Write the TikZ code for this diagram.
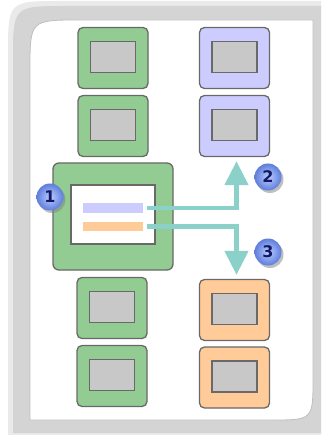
\documentclass[tikz,border=0pt]{standalone}
\usepackage{fontspec}
\setsansfont{DejaVu Sans}
\usetikzlibrary{arrows.meta,shadows}

\definecolor{dotgray}{RGB}{212,212,212}
\definecolor{panegreen}{RGB}{146,204,146}
\definecolor{panelilac}{RGB}{204,204,255}
\definecolor{paneorange}{RGB}{255,204,153}
\definecolor{paneline}{RGB}{105,105,105}
\definecolor{thumbgray}{RGB}{200,200,200}
\definecolor{flowteal}{RGB}{140,208,202}
\definecolor{badgelight}{RGB}{185,205,255}
\definecolor{badgeblue}{RGB}{95,125,220}
\definecolor{badgenavy}{RGB}{20,24,100}

\begin{document}
\begin{tikzpicture}[x=1pt, y=-1pt,
		every node/.style={inner sep=0pt},
		pane/.style={draw=paneline, line width=1.3pt, rounded corners=5pt, minimum width=70pt, minimum height=61pt},
		thumb/.style={draw=paneline, fill=thumbgray, line width=1.6pt, minimum width=45pt, minimum height=31pt},
		bar/.style={minimum width=60pt, minimum height=9.5pt},
		flow/.style={draw=flowteal, line width=4.5pt, -{Triangle[width=23pt,length=24pt]}, shorten >=4pt},
		badge/.style={circle, minimum size=27pt, shade, shading=radial, inner color=badgelight, outer color=badgeblue,
			text=badgenavy, font=\sffamily\bfseries\fontsize{16}{16}\selectfont,
			drop shadow={shadow xshift=2pt, shadow yshift=-2.5pt, opacity=0.5}}]
	\useasboundingbox (0,0) rectangle (321,435);
	% \draw[help lines] (0,0) grid (321,435);

	% dotted backdrop and white sheet
	\fill[dotgray!50] (8,435) -- (8,55) .. controls (8,1) .. (62,1) -- (321,1) -- (321,435) -- cycle;
	\fill[dotgray] (13,433) -- (13,60) .. controls (13,6) .. (67,6) -- (321,6) -- (321,433) -- cycle;
	\filldraw[fill=white, draw=black!25, line width=0.8pt]
		(30,420) -- (30,70) .. controls (30,20) .. (80,20) -- (313,20) -- (313,378) .. controls (313,420) .. (271,420) -- cycle;

	% left column
	\node[pane, fill=panegreen] (leftA) at (113,58) {};
	\node[thumb] at (113,57) {};
	\node[pane, fill=panegreen] (leftB) at (113,126) {};
	\node[thumb] at (113,125) {};
	\node[pane, fill=panegreen] (leftC) at (112,308) {};
	\node[thumb] at (112,307) {};
	\node[pane, fill=panegreen] (leftD) at (112,376) {};
	\node[thumb] at (112,375) {};

	% right column
	\node[pane, fill=panelilac] (lilacA) at (234.5,58) {};
	\node[thumb] at (234.5,57) {};
	\node[pane, fill=panelilac] (lilacB) at (234.5,126) {};
	\node[thumb] at (234.5,125) {};
	\node[pane, fill=paneorange] (orangeA) at (234.5,310) {};
	\node[thumb] at (234.5,309) {};
	\node[pane, fill=paneorange] (orangeB) at (234.5,377.5) {};
	\node[thumb] at (234.5,376.5) {};

	% selected pane
	\node[pane, fill=panegreen, minimum width=120pt, minimum height=107pt, rounded corners=6pt] (main) at (113,216.5) {};
	\node[draw=paneline, fill=white, line width=1.6pt, minimum width=84pt, minimum height=59pt] (sheet) at (113,214.5) {};
	\node[bar, fill=panelilac] (lilacbar) at (113,208) {};
	\node[bar, fill=paneorange] (orangebar) at (113,226.5) {};

	\draw[flow] ([xshift=4pt]lilacbar.east) -| ([xshift=2pt]lilacB.south);
	\draw[flow] ([xshift=4pt]orangebar.east) -| ([xshift=2pt]orangeA.north);

	\node[badge] (one) at (50,197) {1};
	\node[badge] (two) at (268,177) {2};
	\node[badge] (three) at (268,252) {3};
\end{tikzpicture}
\end{document}
